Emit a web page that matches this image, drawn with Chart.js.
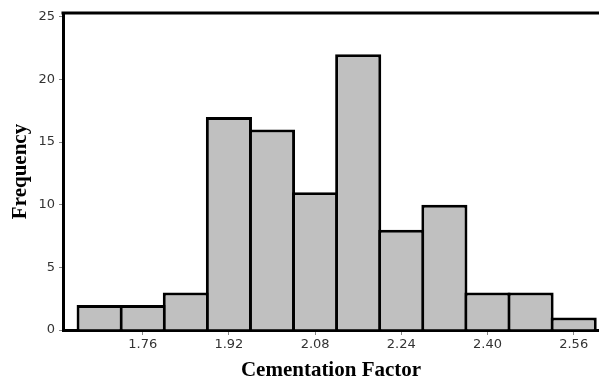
<!DOCTYPE html>
<html>
<head>
<meta charset="utf-8">
<title>Cementation Factor</title>
<script src="https://cdn.jsdelivr.net/npm/chart.js@4/dist/chart.umd.min.js"></script>
<style>
    html, body { margin: 0; padding: 0; background: #ffffff; }
    #histogram { display: block; }
</style>
</head>
<body>
<canvas id="histogram" width="599" height="383"></canvas>
<script>
// Histogram bins (centre of each 0.08 wide bin) and counts
const binCenters = [1.68, 1.76, 1.84, 1.92, 2.00, 2.08, 2.16, 2.24, 2.32, 2.40, 2.48, 2.56];
const frequencies = [2, 2, 3, 17, 16, 11, 22, 8, 10, 3, 3, 1];

// Axis ticks
const xTickValues = [1.76, 1.92, 2.08, 2.24, 2.40, 2.56];
const yTickValues = [0, 5, 10, 15, 20, 25];

/**
 * Black frame line along the top of the plot area
 */
const topFrame = {
    id: 'topFrame',
    afterDraw(chart) {
        const { ctx, chartArea } = chart;
        ctx.save();
        ctx.strokeStyle = '#000000';
        ctx.lineWidth = 3;
        ctx.beginPath();
        ctx.moveTo(chartArea.left - 1.5, chartArea.top);
        ctx.lineTo(chart.width, chartArea.top);
        ctx.stroke();
        ctx.restore();
    }
};

function initHistogram() {
    const ctx = document.getElementById('histogram');
    if (!ctx) return;

    const points = binCenters.map((x, i) => ({ x: x, y: frequencies[i] }));

    new Chart(ctx, {
        type: 'bar',
        data: {
            datasets: [{
                data: points,
                backgroundColor: '#c0c0c0',
                borderColor: '#000000',
                borderWidth: 3,
                // slightly wider than the bin so neighbours share one edge line
                barPercentage: 1.07,
                categoryPercentage: 1
            }]
        },
        plugins: [topFrame],
        options: {
            responsive: false,
            animation: false,
            layout: { padding: { top: 13, right: 0, bottom: 0, left: 0 } },
            plugins: {
                legend: { display: false },
                tooltip: { enabled: false }
            },
            scales: {
                x: {
                    type: 'linear',
                    min: 1.612,
                    max: 2.607,
                    offset: false,
                    afterBuildTicks: scale => {
                        scale.ticks = xTickValues.map(v => ({ value: v }));
                    },
                    afterFit: scale => { scale.height = 53; },
                    grid: {
                        offset: false,
                        drawOnChartArea: false,
                        color: '#888888',
                        tickLength: 5
                    },
                    border: { display: true, color: '#000000', width: 3 },
                    ticks: {
                        autoSkip: false,
                        maxRotation: 0,
                        padding: 2,
                        color: '#333333',
                        font: { family: 'DejaVu Sans', size: 13 },
                        callback: value => Number(value).toFixed(2)
                    },
                    title: {
                        display: true,
                        text: 'Cementation Factor',
                        color: '#000000',
                        padding: { top: 0, bottom: 0 },
                        font: { family: 'Liberation Serif', size: 21, weight: 'bold', lineHeight: 1.2 }
                    }
                },
                y: {
                    min: 0,
                    max: 25.3,
                    afterBuildTicks: scale => {
                        scale.ticks = yTickValues.map(v => ({ value: v }));
                    },
                    afterFit: scale => { scale.width = 63; },
                    grid: {
                        drawOnChartArea: false,
                        color: '#888888',
                        tickLength: 4
                    },
                    border: { display: true, color: '#000000', width: 3 },
                    ticks: {
                        padding: 4,
                        color: '#333333',
                        font: { family: 'DejaVu Sans', size: 13 }
                    },
                    title: {
                        display: true,
                        text: 'Frequency',
                        color: '#000000',
                        padding: { top: 8, bottom: 0 },
                        font: { family: 'Liberation Serif', size: 21, weight: 'bold', lineHeight: 1.2 }
                    }
                }
            }
        }
    });
}

document.addEventListener('DOMContentLoaded', function() {
    initHistogram();
});
</script>
</body>
</html>
